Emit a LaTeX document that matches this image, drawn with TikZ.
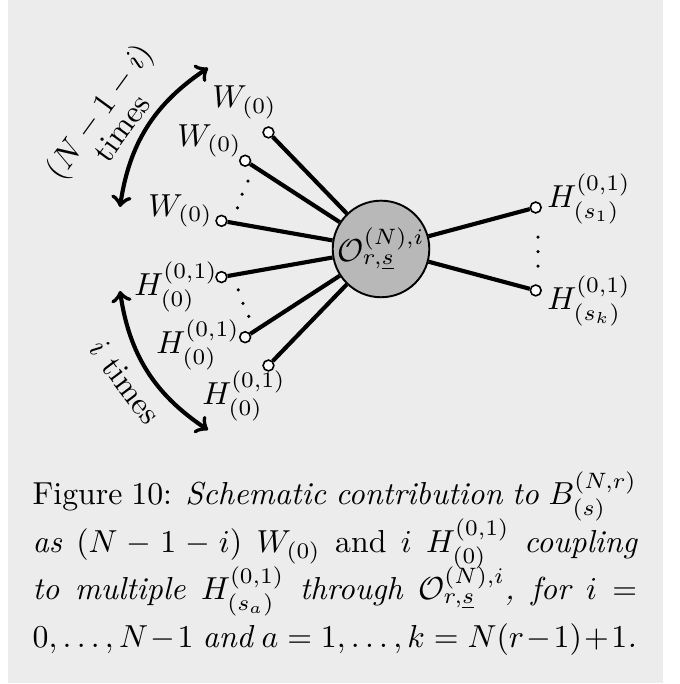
\documentclass[tikz,border=0pt]{standalone}
\usepackage{amsmath}
\definecolor{bggray}{RGB}{236,236,236}
\definecolor{hubgray}{RGB}{184,184,184}
\tikzset{
  leg/.style = {line width=1.3pt},
  endpt/.style = {circle, draw, fill=white, inner sep=0pt, minimum size=3.4pt, line width=0.5pt},
  hub/.style = {circle, draw, fill=hubgray, inner sep=0pt, minimum size=1.02cm, line width=0.6pt},
  lbl/.style = {inner sep=0pt},
  count/.style = {<->, line width=1.3pt},
}
\begin{document}
\begin{tikzpicture}
  \useasboundingbox (-4.210,-4.807) rectangle (3.293,2.751);
  \fill[bggray] (-4.122,-4.796) rectangle (3.116,2.751);
  % vertex
  \node[hub] (hub) at (0,0) {$\mathcal{O}^{(N),i}_{r,\underline{s}}$};
  % outer points
  \node[endpt] (w1) at (134:1.79) {};
  \node[endpt] (w2) at (147:1.79) {};
  \node[endpt] (w3) at (170:1.79) {};
  \node[endpt] (h1) at (190:1.79) {};
  \node[endpt] (h2) at (213:1.79) {};
  \node[endpt] (h3) at (226:1.79) {};
  \node[endpt] (s1) at (15:1.77) {};
  \node[endpt] (sk) at (-15:1.77) {};
  \foreach \p in {w1,w2,w3,h1,h2,h3,s1,sk}
    \draw[leg] (hub) -- (\p);
  % labels
  \node[lbl] (lw1) at (-1.508,1.619) {$W_{(0)}$};
  \node[lbl] (lw2) at (-1.895,1.193) {$W_{(0)}$};
  \node[lbl] (lw3) at (-2.215,0.420) {$W_{(0)}$};
  \node[lbl] (lh1) at (-2.265,-0.420) {$H^{(0,1)}_{(0)}$};
  \node[lbl] (lh2) at (-2.022,-1.061) {$H^{(0,1)}_{(0)}$};
  \node[lbl] (lh3) at (-1.514,-1.624) {$H^{(0,1)}_{(0)}$};
  \node[lbl] (ls1) at (2.298,0.552) {$H^{(0,1)}_{(s_1)}$};
  \node[lbl] (lsk) at (2.298,-0.575) {$H^{(0,1)}_{(s_k)}$};
  % dots
  \foreach \a in {153,158.5,164}
    \fill (\a:1.65) circle (0.55pt);
  \foreach \a in {196,201.5,207}
    \fill (\a:1.64) circle (0.55pt);
  \foreach \y in {0.13,-0.03,-0.19}
    \fill (1.735,\y) circle (0.55pt);
  % multiplicities
  \coordinate (wa) at (-2.884,0.464);
  \coordinate (wb) at (-1.912,2.000);
  \coordinate (ha) at (-2.884,-0.464);
  \coordinate (hb) at (-1.912,-2.000);
  \draw[count] (wa) to[bend left=24] (wb);
  \draw[count] (ha) to[bend right=24] (hb);
  \node[lbl, rotate=54, align=center] (nw) at (-3.006,1.440) {$(N-1-i)$\\[-3pt]times};
  \node[lbl, rotate=-53] (nh) at (-2.829,-1.470) {$i$ times};
  % caption
  \node[lbl, anchor=base west, text width=190pt, align=justify] (cap) at (-3.856,-2.829)
    {\baselineskip=14.9pt\lineskiplimit=-100pt
    Figure 10: \textit{Schematic contribution to $B^{(N,r)}_{(s)}$\linebreak
    as $(N-1-i)$ $W_{(0)}$ \textup{and} $i$ $H^{(0,1)}_{(0)}$ coupling\linebreak
    to multiple $H^{(0,1)}_{(s_a)}$ through $\mathcal{O}^{(N),i}_{r,\underline{s}}$, for $i=$\linebreak
    $0,\ldots,N-1$ and $a=1,\ldots,k=N(r-1)+1$.}\par};
\end{tikzpicture}
\end{document}
